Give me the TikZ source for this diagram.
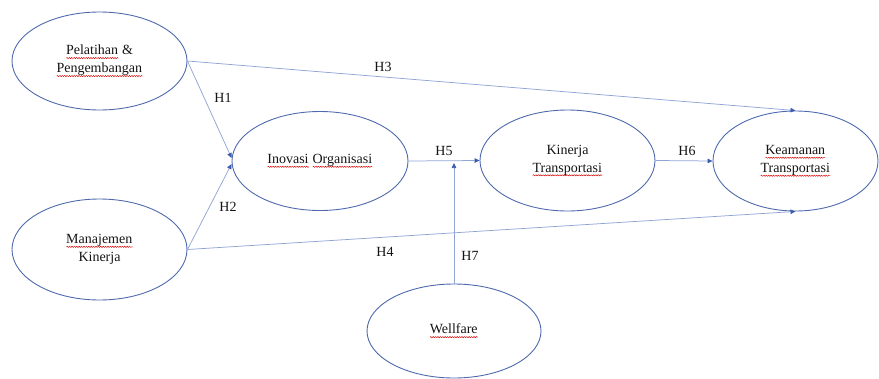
\documentclass[tikz,border=0pt]{standalone}
\usepackage{fontspec}
\setmainfont{Liberation Serif}
\usetikzlibrary{shapes.geometric,arrows.meta,calc,decorations.pathmorphing}
\definecolor{ellblue}{RGB}{78,106,172}
\definecolor{lineblue}{RGB}{145,165,212}
\definecolor{tipblue}{RGB}{62,92,175}
\definecolor{txt}{RGB}{20,20,20}
\newcommand\spchk[1]{\setbox0=\hbox{#1}\hbox{\copy0\kern-\wd0\begin{tikzpicture}[baseline=0pt]\draw[red!85!black,line width=0.45pt,decorate,decoration={snake,amplitude=0.6pt,segment length=2.4pt}] (0pt,-3.2pt) -- (\the\wd0,-3.2pt);\end{tikzpicture}}}
\tikzset{
  ell/.style={ellipse, draw=ellblue, line width=0.9pt, inner sep=0pt, align=center,
    font=\fontsize{14}{18}\selectfont, text=txt},
  conn/.style={draw=lineblue, line width=0.75pt, -{Triangle[length=5pt,width=4.5pt,color=tipblue]}},
  hlab/.style={font=\fontsize{14}{17}\selectfont, text=txt, inner sep=0pt}
}
\begin{document}
\begin{tikzpicture}[x=1pt,y=-1pt]
\useasboundingbox (0,0) rectangle (879,378);
\node[ell, minimum width=175pt, minimum height=98pt] (pel) at (99.5,61) {\spchk{Pelatihan} \&\\\spchk{Pengembangan}};
\node[ell, minimum width=176pt, minimum height=99pt] (ino) at (320,161) {\spchk{Inovasi} \spchk{Organisasi}};
\node[ell, minimum width=175pt, minimum height=101pt] (man) at (99.5,249.5) {\spchk{Manajemen}\\Kinerja};
\node[ell, minimum width=175pt, minimum height=101pt] (kin) at (567.5,160.5) {Kinerja\\\spchk{Transportasi}};
\node[ell, minimum width=165pt, minimum height=100pt] (kea) at (795.5,161) {\spchk{Keamanan}\\\spchk{Transportasi}};
\node[ell, minimum width=174pt, minimum height=94pt] (wel) at (454,331) {\spchk{Wellfare}};
\coordinate (h7end) at (454,163);
\draw[conn] (pel.east) -- ($(ino.west)+(0,-3)$);
\draw[conn] (man.east) -- ($(ino.west)+(0,3)$);
\draw[conn] (pel.east) -- (kea.north);
\draw[conn] (man.east) -- (kea.south);
\draw[conn] (ino.east) -- (kin.west);
\draw[conn] (kin.east) -- (kea.west);
\draw[conn] (wel.north) -- (h7end);
\node[hlab] (l1) at (223,98) {H1};
\node[hlab] (l2) at (228,207) {H2};
\node[hlab] (l3) at (383,67) {H3};
\node[hlab] (l4) at (385,252) {H4};
\node[hlab] (l5) at (444,151) {H5};
\node[hlab] (l6) at (687,151) {H6};
\node[hlab] (l7) at (470,256) {H7};
\end{tikzpicture}
\end{document}
